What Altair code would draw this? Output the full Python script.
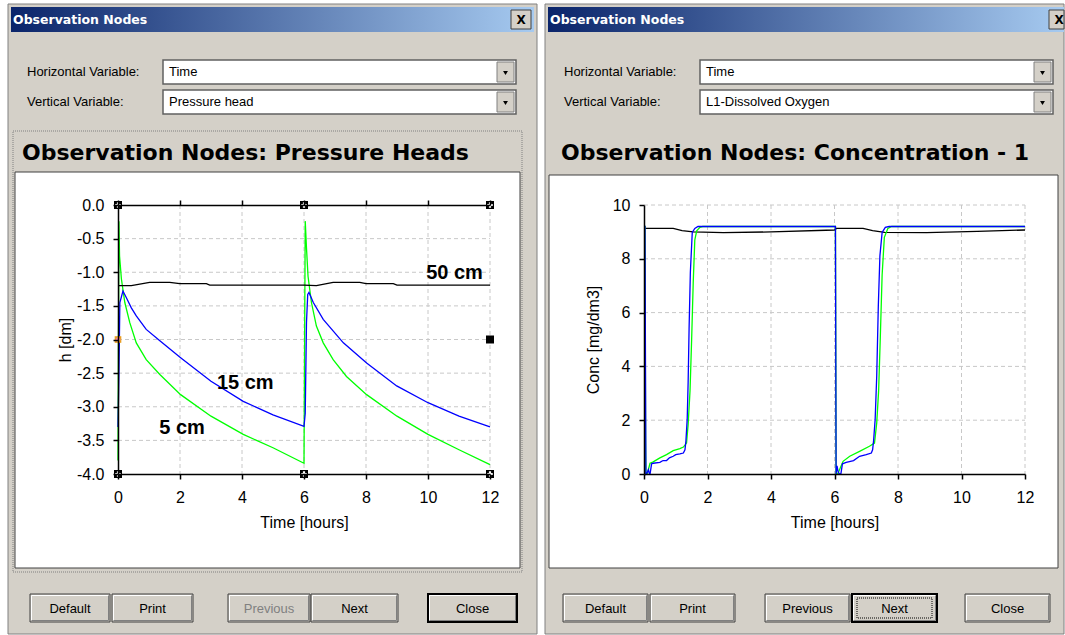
import altair as alt
import pandas as pd

# ---------------- data ----------------
# Left chart: pressure heads h [dm] vs time [hours]
p50_t = [0.0, 0.43, 1.02, 1.67, 1.99, 2.85, 2.96, 6.0, 6.4, 6.94, 7.8, 8.0, 8.88, 9.0, 12.0]
p50_h = [-1.2, -1.2, -1.15, -1.15, -1.17, -1.17, -1.19, -1.19, -1.2, -1.15, -1.15, -1.17, -1.17, -1.19, -1.19]

p15_t = [0.0, 0.03, 0.06, 0.16, 0.27, 0.43, 0.59, 0.91, 1.35, 2.02, 3.0, 4.04, 5.0, 6.0,
         6.04, 6.08, 6.12, 6.16, 6.3, 6.62, 7.27, 8.02, 8.99, 10.0, 11.0, 12.0]
p15_h = [-3.3, -2.5, -1.45, -1.28, -1.38, -1.53, -1.65, -1.85, -2.02, -2.27, -2.62, -2.92, -3.12, -3.29,
         -3.1, -1.75, -1.33, -1.3, -1.45, -1.7, -2.05, -2.35, -2.69, -2.94, -3.14, -3.3]

p5_t = [0.0, 0.02, 0.03, 0.05, 0.11, 0.22, 0.38, 0.59, 0.91, 1.35, 2.02, 3.0, 4.04, 5.0, 6.0,
        6.02, 6.04, 6.08, 6.13, 6.24, 6.4, 6.62, 6.94, 7.37, 8.02, 9.0, 10.0, 11.0, 12.0]
p5_h = [-3.8, -1.5, -0.24, -0.76, -1.1, -1.45, -1.75, -2.05, -2.3, -2.52, -2.82, -3.14, -3.41, -3.61, -3.84,
        -2.0, -0.24, -0.64, -1.06, -1.45, -1.8, -2.05, -2.3, -2.55, -2.82, -3.14, -3.41, -3.64, -3.86]

ann_text = ["50 cm", "15 cm", "5 cm"]
ann_t = [9.94, 3.19, 1.33]
ann_h = [-1.105, -2.74, -3.41]

handle_t = [0, 6, 12, 0, 6, 12, 12]
handle_h = [0.0, 0.0, 0.0, -4.0, -4.0, -4.0, -2.0]
handle2_t = [0]
handle2_h = [-2.0]

left_xticks = [0, 2, 4, 6, 8, 10, 12]
left_yticks = [0.0, -0.5, -1.0, -1.5, -2.0, -2.5, -3.0, -3.5, -4.0]

# Right chart: dissolved oxygen concentration [mg/dm3] vs time [hours]
c50_t = [0.0, 0.92, 1.2, 1.55, 2.5, 4.0, 6.0, 6.06, 6.9, 7.2, 7.58, 8.9, 10.5, 12.0]
c50_c = [9.13, 9.13, 9.05, 9.0, 8.97, 9.0, 9.07, 9.13, 9.13, 9.05, 8.98, 8.97, 9.02, 9.07]

c15_t = [0.0, 0.03, 0.06, 0.1, 0.14, 0.17, 0.19, 0.24, 0.29, 0.5, 0.6, 0.71, 0.8, 0.92, 1.0, 1.13, 1.24,
         1.29, 1.32, 1.36, 1.39, 1.42, 1.46, 1.52, 1.6, 1.7, 6.03, 6.05, 6.08, 6.11, 6.15, 6.2, 6.25,
         6.37, 6.6, 6.79, 7.0, 7.16, 7.2, 7.23, 7.28, 7.33, 7.38, 7.43, 7.5, 7.6, 7.72, 12.0]
c15_c = [9.2, 9.2, 0.0, 0.05, 0.16, 0.0, 0.0, 0.38, 0.4, 0.43, 0.5, 0.5, 0.6, 0.66, 0.72, 0.75, 0.78,
         0.9, 1.22, 2.02, 3.4, 5.4, 7.5, 8.98, 9.13, 9.2, 9.2, 0.0, 0.3, 0.1, 0.0, 0.0, 0.38,
         0.43, 0.5, 0.66, 0.72, 0.78, 0.9, 1.22, 2.02, 3.64, 6.25, 8.11, 8.98, 9.17, 9.2, 9.2]

c5_t = [0.0, 0.03, 0.05, 0.06, 0.1, 0.19, 0.29, 0.5, 0.71, 0.92, 1.13, 1.24, 1.34, 1.39, 1.45, 1.5, 1.55,
        1.6, 1.66, 1.76, 1.85, 6.03, 6.05, 6.1, 6.27, 6.48, 6.79, 7.1, 7.26, 7.33, 7.39, 7.44, 7.5,
        7.57, 7.68, 7.8, 12.0]
c5_c = [9.2, 9.2, 1.3, 0.0, 0.0, 0.4, 0.45, 0.6, 0.72, 0.87, 0.94, 1.0, 1.15, 1.83, 3.1, 4.98, 7.1,
        8.7, 9.04, 9.17, 9.2, 9.2, 0.0, 0.0, 0.47, 0.66, 0.84, 1.03, 1.15, 1.9, 3.1, 4.98, 7.4,
        8.8, 9.13, 9.2, 9.2]

right_xticks = [0, 2, 4, 6, 8, 10, 12]
right_yticks = [0, 2, 4, 6, 8, 10]

# ---------------- styling / layout helpers ----------------
GRAY = "#D4D0C8"
FONT = "Liberation Sans"
ONE = pd.DataFrame({"k": [0]})


def box(o, x1, y1, x2, y2, **kw):
    ox, oy = o
    return alt.Chart(ONE).mark_rect(**kw).encode(
        x=alt.value(x1 - ox), x2=alt.value(x2 - ox),
        y=alt.value(y1 - oy), y2=alt.value(y2 - oy))


def hline(o, x1, x2, y, color, w=1):
    ox, oy = o
    return alt.Chart(ONE).mark_rule(color=color, strokeWidth=w).encode(
        x=alt.value(x1 - ox), x2=alt.value(x2 - ox), y=alt.value(y - oy))


def vline(o, x, y1, y2, color, w=1):
    ox, oy = o
    return alt.Chart(ONE).mark_rule(color=color, strokeWidth=w).encode(
        x=alt.value(x - ox), y=alt.value(y1 - oy), y2=alt.value(y2 - oy))


def txt(o, x, y, s, **kw):
    ox, oy = o
    base = dict(font=FONT, fontSize=13, color="black", align="left", baseline="middle")
    base.update(kw)
    return alt.Chart(ONE).mark_text(**base).encode(
        x=alt.value(x - ox), y=alt.value(y - oy), text=alt.value(s))


def tri(o, x, y):
    ox, oy = o
    return alt.Chart(ONE).mark_point(shape="triangle-down", filled=True, color="black",
                                     size=24, opacity=1).encode(
        x=alt.value(x - ox), y=alt.value(y - oy))


def gradient():
    return alt.LinearGradient(
        gradient="linear",
        stops=[alt.GradientStop(offset=0, color="#0A246A"),
               alt.GradientStop(offset=1, color="#A6CAF0")],
        x1=0, x2=1, y1=0, y2=0)


def dialog_chrome(o, cx1, cx2, dx1, dx2, tb_x2, close_x1, close_x2, lab_x, dd_x1, dd_x2,
                  vert_text, frame, title, title_x, wb, buttons):
    L = []
    L.append(box(o, cx1, 0, cx2, 635, fill="white", strokeWidth=0))
    L.append(box(o, dx1, 4, dx2, 634, fill=GRAY, stroke="#808080", strokeWidth=1))
    L.append(box(o, dx1 + 3, 7, tb_x2, 32, fill=gradient(), strokeWidth=0))
    L.append(txt(o, dx1 + 5, 20, "Observation Nodes", font="DejaVu Sans", fontSize=12.5,
                 fontWeight="bold", color="white"))
    L.append(box(o, close_x1, 10, close_x2, 29, fill=GRAY, stroke="#404040", strokeWidth=1))
    L.append(txt(o, (close_x1 + 10), 20, "X", font="DejaVu Sans", fontSize=12,
                 fontWeight="bold", align="center"))
    L.append(txt(o, lab_x, 72, "Horizontal Variable:"))
    L.append(txt(o, lab_x, 102, "Vertical Variable:"))
    for (y1, y2, s) in [(60, 84, "Time"), (90, 114, vert_text)]:
        L.append(box(o, dd_x1, y1, dd_x2, y2, fill="white", stroke="#606060", strokeWidth=1.5))
        L.append(box(o, dd_x2 - 19, y1 + 2, dd_x2 - 2, y2 - 2, fill=GRAY, stroke="#808080",
                     strokeWidth=1))
        L.append(tri(o, dd_x2 - 10.5, (y1 + y2) / 2 + 1))
        L.append(txt(o, dd_x1 + 6, (y1 + y2) / 2, s))
    if frame is not None:
        L.append(box(o, *frame, fillOpacity=0, stroke="#808080", strokeWidth=1,
                     strokeDash=[1, 1]))
    L.append(txt(o, title_x, 160, title, font="DejaVu Sans", fontSize=22, fontWeight="bold",
                 baseline="alphabetic"))
    L.append(box(o, *wb, fill="white", stroke="#404040", strokeWidth=1))
    for (s, x1, x2, style) in buttons:
        sw = 2 if style.startswith("default") else 1
        sc = "black" if style.startswith("default") else "#404040"
        L.append(box(o, x1, 594, x2, 622, fill=GRAY, stroke=sc, strokeWidth=sw))
        L.append(hline(o, x1 + 1.5, x2 - 1.5, 595.5, "white"))
        L.append(vline(o, x1 + 1.5, 595.5, 620.5, "white"))
        L.append(hline(o, x1 + 1.5, x2 - 1.5, 620.5, "#808080"))
        L.append(vline(o, x2 - 1.5, 595.5, 620.5, "#808080"))
        if style == "default_focus":
            L.append(box(o, x1 + 5, 598, x2 - 5, 618, fillOpacity=0, stroke="black",
                         strokeWidth=1, strokeDash=[1, 1]))
        col = "#808080" if style == "disabled" else "black"
        L.append(txt(o, (x1 + x2) / 2, 609, s, align="center", color=col))
    return L


def series_df(t, v):
    return pd.DataFrame({"t": t, "v": v, "idx": list(range(len(t)))})


def rules(W, H, xs, ys, xvals, yvals):
    L = []
    grid = dict(color="#C8C8C8", strokeDash=[4, 3], strokeWidth=1)
    L.append(alt.Chart(pd.DataFrame({"t": xvals})).mark_rule(**grid).encode(
        x=alt.X("t:Q", scale=xs, axis=None), y=alt.value(0), y2=alt.value(H)))
    L.append(alt.Chart(pd.DataFrame({"v": yvals})).mark_rule(**grid).encode(
        y=alt.Y("v:Q", scale=ys, axis=None), x=alt.value(0), x2=alt.value(W)))
    return L


def line(df, xs, ys, color, xa=None, ya=None):
    return alt.Chart(df).mark_line(color=color, strokeWidth=1.3).encode(
        x=alt.X("t:Q", scale=xs, axis=xa),
        y=alt.Y("v:Q", scale=ys, axis=ya),
        order=alt.Order("idx:Q"))


AX = dict(labelFont=FONT, labelFontSize=16, labelColor="black", titleFont=FONT,
          titleFontSize=16, titleFontWeight="normal", titleColor="black",
          domainColor="black", tickColor="black", domainWidth=1.5, tickWidth=1.5,
          tickSize=5, grid=False, zindex=1, labelFlush=False)

# ---------------- left panel ----------------
LO = (118, 205)
LW, LH = 372, 269
lxs = alt.Scale(domain=[0, 12], nice=False, zero=False)
lys = alt.Scale(domain=[-4, 0], nice=False, zero=False)

left_layers = dialog_chrome(
    LO, 0, 541, 8, 537, 534, 511, 531, 27, 163, 516, "Pressure head",
    (13, 131, 522, 572), "Observation Nodes: Pressure Heads", 22, (15, 172, 520, 568),
    [("Default", 30, 110, "normal"), ("Print", 112, 193, "normal"),
     ("Previous", 228, 310, "disabled"), ("Next", 311, 398, "normal"),
     ("Close", 428, 517, "default")])
left_layers += rules(LW, LH, lxs, lys, left_xticks[1:],
                     [v for v in left_yticks if v not in (0.0, -4.0)])

lxa = alt.Axis(values=left_xticks, title="Time [hours]", labelPadding=10, titleX=LW / 2,
               titleY=48, titleAlign="center", titleBaseline="middle", **AX)
lya = alt.Axis(values=left_yticks, title="h [dm]", labelPadding=9,
               labelExpr="replace(format(datum.value, '.1f'), '\u2212', '-')",
               titleX=-53, titleY=LH / 2, titleAngle=270, titleAlign="center",
               titleBaseline="middle", **AX)
top_ax = alt.Axis(orient="top", values=left_xticks, labels=False, title=None, **AX)

left_layers.append(line(series_df(p5_t, p5_h), lxs, lys, "#00FF00"))
left_layers.append(line(series_df(p15_t, p15_h), lxs, lys, "#0000FF"))
left_layers.append(line(series_df(p50_t, p50_h), lxs, lys, "black", lxa, lya))

hdf = pd.DataFrame({"t": handle_t, "v": handle_h})
left_layers.append(alt.Chart(hdf).mark_square(size=64, color="black", opacity=1).encode(
    x=alt.X("t:Q", scale=lxs, axis=top_ax), y=alt.Y("v:Q", scale=lys, axis=None)))
left_layers.append(alt.Chart(hdf.iloc[:6]).mark_point(shape="cross", filled=True, color="white",
                                                      size=30, opacity=1).encode(
    x=alt.X("t:Q", scale=lxs, axis=None), y=alt.Y("v:Q", scale=lys, axis=None)))
h2 = pd.DataFrame({"t": handle2_t, "v": handle2_h})
left_layers.append(alt.Chart(h2).mark_square(size=44, color="#E8A020", opacity=1).encode(
    x=alt.X("t:Q", scale=lxs, axis=None), y=alt.Y("v:Q", scale=lys, axis=None)))
left_layers.append(alt.Chart(h2).mark_point(shape="cross", filled=True, color="#FF80C0",
                                            size=20, opacity=1).encode(
    x=alt.X("t:Q", scale=lxs, axis=None), y=alt.Y("v:Q", scale=lys, axis=None)))

adf = pd.DataFrame({"t": ann_t, "v": ann_h, "s": ann_text})
left_layers.append(alt.Chart(adf).mark_text(font=FONT, fontSize=20, fontWeight="bold",
                                            align="left", baseline="alphabetic",
                                            color="black").encode(
    x=alt.X("t:Q", scale=lxs, axis=None), y=alt.Y("v:Q", scale=lys, axis=None),
    text="s:N"))

left = alt.layer(*left_layers).properties(width=LW, height=LH).resolve_axis(
    x="independent", y="independent")

# ---------------- right panel ----------------
RO = (644, 205)
RW, RH = 381, 269
rxs = alt.Scale(domain=[0, 12], nice=False, zero=False)
rys = alt.Scale(domain=[0, 10], nice=False, zero=False)

right_layers = dialog_chrome(
    RO, 541, 1065, 545, 1064, 1064, 1049, 1064, 564, 700, 1053, "L1-Dissolved Oxygen",
    None, "Observation Nodes: Concentration - 1", 561, (549, 175, 1058, 568),
    [("Default", 563, 648, "normal"), ("Print", 650, 735, "normal"),
     ("Previous", 765, 850, "normal"), ("Next", 852, 937, "default_focus"),
     ("Close", 965, 1050, "normal")])
right_layers += rules(RW, RH, rxs, rys, right_xticks[1:], right_yticks[1:])

rxa = alt.Axis(values=right_xticks, title="Time [hours]", labelPadding=10, titleX=RW / 2,
               titleY=48, titleAlign="center", titleBaseline="middle", **AX)
rya = alt.Axis(values=right_yticks, title="Conc [mg/dm3]", labelPadding=9, format="d",
               titleX=-51, titleY=RH / 2, titleAngle=270, titleAlign="center",
               titleBaseline="middle", **AX)

right_layers.append(line(series_df(c50_t, c50_c), rxs, rys, "black", rxa, rya))
right_layers.append(line(series_df(c5_t, c5_c), rxs, rys, "#00FF00"))
right_layers.append(line(series_df(c15_t, c15_c), rxs, rys, "#0000FF"))

right = alt.layer(*right_layers).properties(width=RW, height=RH).resolve_axis(
    x="independent", y="independent")

chart = alt.hconcat(left, right, spacing=0).properties(
    padding=0, background="white"
).configure_view(strokeWidth=0)

chart.save("out.html", embed_options={"renderer": "svg", "actions": False})
